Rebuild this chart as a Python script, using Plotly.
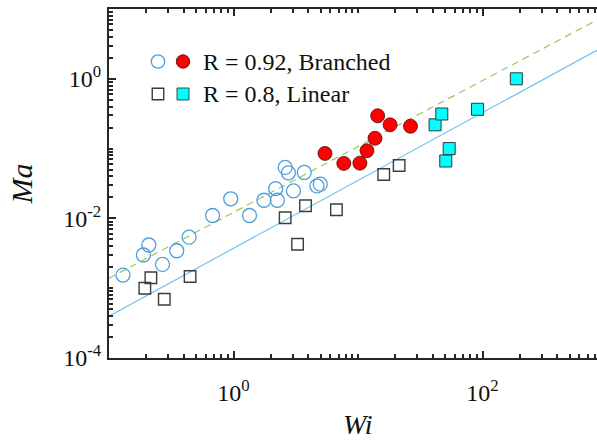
import plotly.graph_objects as go

# ---- data: Ma versus Wi ----
branched_open_wi = [0.1295, 0.209, 0.189, 0.269, 0.350, 0.440, 0.679, 0.950, 1.345,
                    1.755, 2.18, 2.25, 2.60, 2.76, 3.03, 3.70, 4.68, 4.98]
branched_open_ma = [0.00154, 0.00416, 0.00299, 0.00219, 0.00344, 0.00538, 0.0110, 0.0191, 0.0110,
                    0.0182, 0.0267, 0.0182, 0.0538, 0.0450, 0.0248, 0.0455, 0.0292, 0.0309]

branched_fill_wi = [5.43, 7.69, 10.36, 11.80, 13.70, 14.39, 18.1, 26.4]
branched_fill_ma = [0.0853, 0.0614, 0.0619, 0.0933, 0.1406, 0.295, 0.219, 0.209]

linear_open_wi = [0.217, 0.194, 0.278, 0.448, 2.60, 3.27, 3.79, 6.71, 16.1, 21.4]
linear_open_ma = [0.00141, 0.000997, 0.000693, 0.00147, 0.0102, 0.00426, 0.0152, 0.0133, 0.0426, 0.0574]

linear_fill_wi = [41.6, 47.1, 50.7, 54.0, 91.2, 187.0]
linear_fill_ma = [0.219, 0.313, 0.0664, 0.100, 0.366, 1.0]

# power-law fits Ma = A * Wi^n
branched_fit = dict(A=0.0122, n=0.944)
linear_fit = dict(A=0.00373, n=0.972)
fit_wi = [0.1, 1000.0]

legend_labels = ["R = 0.92, Branched", "R = 0.8, Linear"]

x_tickvals = [1, 100]
x_ticktext = ["10<sup>0</sup>", "10<sup>2</sup>"]
y_tickvals = [1e-4, 1e-2, 1]
y_ticktext = ["10<sup>-4</sup>", "10<sup>-2</sup>", "10<sup>0</sup>"]

# ---- styling ----
W, H = 597, 442
ML, MR, MT, MB = 109, 0, 9, 84
SERIF = "Liberation Serif"
AXC = "#262626"
TXT = "#111111"
C_OPEN_CIRC = "#4C9FDA"
C_OPEN_SQ = "#3C3C3C"
C_RED = "#FF0000"
C_CYAN = "#00FFFF"
C_GREEN = "#9CC65A"
C_BLUE = "#72C4EE"
X_DECADE_PX = 124.5


def fit_line(p):
    return [p["A"] * w ** p["n"] for w in fit_wi]


fig = go.Figure()

fig.add_trace(go.Scatter(x=fit_wi, y=fit_line(branched_fit), mode="lines",
                         line=dict(color=C_GREEN, width=1.2, dash="7px,5px"),
                         showlegend=False, hoverinfo="skip"))
fig.add_trace(go.Scatter(x=fit_wi, y=fit_line(linear_fit), mode="lines",
                         line=dict(color=C_BLUE, width=1.2),
                         showlegend=False, hoverinfo="skip"))

fig.add_trace(go.Scatter(x=branched_open_wi, y=branched_open_ma, mode="markers",
                         marker=dict(symbol="circle-open", size=14, color=C_OPEN_CIRC,
                                     line=dict(width=1.3)),
                         showlegend=False))
fig.add_trace(go.Scatter(x=linear_open_wi, y=linear_open_ma, mode="markers",
                         marker=dict(symbol="square-open", size=11.5, color=C_OPEN_SQ,
                                     line=dict(width=1.4)),
                         showlegend=False))
fig.add_trace(go.Scatter(x=branched_fill_wi, y=branched_fill_ma, mode="markers",
                         marker=dict(symbol="circle", size=14, color=C_RED,
                                     line=dict(color="#4A1010", width=0.8)),
                         showlegend=False))
fig.add_trace(go.Scatter(x=linear_fill_wi, y=linear_fill_ma, mode="markers",
                         marker=dict(symbol="square", size=12, color=C_CYAN,
                                     line=dict(color="#2B3A3A", width=1.0)),
                         showlegend=False))

# ---- legend drawn as shapes + text ----
PW, PH = W - ML - MR, H - MT - MB


def px_to_paper(px, py):
    return (px - ML) / PW, (H - MB - py) / PH


shapes = []
annotations = []
legend_rows = [
    (61.5, "circle", C_OPEN_CIRC, 13.4, 1.3, C_RED, "#4A1010", 13.4),
    (94.0, "rect", C_OPEN_SQ, 11.5, 1.4, C_CYAN, "#2B3A3A", 12),
]
for (py, kind, ocol, osz, ow, fcol, flc, fsz), label in zip(legend_rows, legend_labels):
    for cx, line_col, fill_col, sz, lw in [(158, ocol, "rgba(0,0,0,0)", osz, ow),
                                          (183, flc, fcol, fsz, 0.9)]:
        xa, ya = px_to_paper(cx, py)
        shapes.append(dict(type=kind, xref="paper", yref="paper",
                           xsizemode="pixel", ysizemode="pixel",
                           xanchor=xa, yanchor=ya,
                           x0=-sz / 2, x1=sz / 2, y0=-sz / 2, y1=sz / 2,
                           line=dict(color=line_col, width=lw), fillcolor=fill_col,
                           layer="above"))
    tx, ty = px_to_paper(201, py)
    annotations.append(dict(text=label, xref="paper", yref="paper", x=tx, y=ty,
                            xanchor="left", yanchor="middle", showarrow=False,
                            font=dict(family=SERIF, size=24, color=TXT)))

# x-axis title, centred on the full decade span (the axis box runs past the right edge)
wx, wy = px_to_paper(ML + 2 * X_DECADE_PX, 424)
annotations.append(dict(text="<i>Wi</i>", xref="paper", yref="paper", x=wx, y=wy,
                        xanchor="center", yanchor="middle", showarrow=False,
                        borderpad=0,
                        font=dict(family=SERIF, size=28, color=TXT)))

x_minor = [k * 10.0 ** d for d in range(-1, 3) for k in range(2, 10)] + [10.0]
y_minor = [k * 10.0 ** d for d in range(-4, 1) for k in range(2, 10)] + [1e-3, 1e-1]

axis_common = dict(
    type="log", showgrid=False, zeroline=False,
    showline=True, linecolor=AXC, linewidth=2,
    ticks="inside", ticklen=7, tickwidth=1.8, tickcolor=AXC,
    tickfont=dict(family=SERIF, size=24, color=TXT),
    tickmode="array",
)

fig.update_layout(
    width=W, height=H,
    margin=dict(l=ML, r=MR, t=MT, b=MB),
    paper_bgcolor="white", plot_bgcolor="white",
    showlegend=False,
    font=dict(family=SERIF, color=TXT),
    xaxis=dict(**axis_common, range=[-1, -1 + PW / X_DECADE_PX],
               tickvals=x_tickvals, ticktext=x_ticktext, mirror="allticks",
               minor=dict(tickmode="array", tickvals=x_minor, ticks="inside",
                          ticklen=4, tickwidth=1.8, tickcolor=AXC, showgrid=False),
               ticklabelstandoff=12),
    yaxis=dict(**axis_common, range=[-4, 1],
               tickvals=y_tickvals, ticktext=y_ticktext, mirror=False,
               minor=dict(tickmode="array", tickvals=y_minor, ticks="inside",
                          ticklen=4, tickwidth=1.8, tickcolor=AXC, showgrid=False),
               ticklabelstandoff=1,
               title=dict(text="<i>Ma</i>", font=dict(family=SERIF, size=30, color=TXT),
                          standoff=22)),
    shapes=shapes,
    annotations=annotations,
)

fig.write_html("out.html")
